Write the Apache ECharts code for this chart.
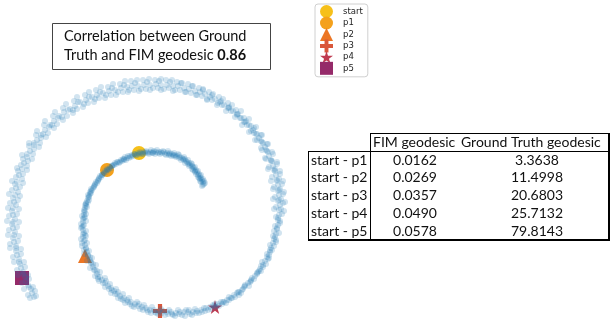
<!DOCTYPE html>
<html><head><meta charset="utf-8">
<script src="https://cdn.jsdelivr.net/npm/echarts@6/dist/echarts.min.js"></script>
<style>html,body{margin:0;padding:0;background:#fff}#c{width:616px;height:322px}</style>
</head><body><div id="c"></div>
<script>
// Spiral sample points (pixel-like data space)
const spiralPoints = [
[204,184],[202,186],[205,183],[203,185],[202,180],[200,181],[203,179],[201,182],[200,176],[198,177],[201,175],[199,178],
[197,172],[196,174],[198,171],[195,172],[194,168],[193,170],[195,167],[192,169],[190,165],[189,166],[192,164],[191,163],
[186,161],[185,163],[188,160],[187,162],[182,158],[181,160],[184,157],[183,159],[177,156],[176,157],[179,155],[178,154],
[172,154],[171,156],[174,153],[173,155],[167,153],[166,155],[168,151],[169,154],[161,152],[160,154],[163,151],[162,153],
[156,152],[155,154],[157,150],[154,151],[150,152],[149,154],[151,150],[152,153],[144,152],[143,154],[146,151],[145,153],
[138,153],[137,155],[140,152],[139,154],[132,155],[131,157],[134,154],[133,156],[127,158],[126,160],[128,156],[125,157],
[121,160],[120,162],[123,159],[122,161],[115,163],[114,165],[117,162],[116,164],[110,167],[109,169],[112,166],[111,168],
[106,172],[104,173],[107,170],[105,171],[101,177],[99,178],[102,175],[100,176],[96,182],[95,184],[98,181],[97,183],
[93,188],[91,189],[94,187],[92,190],[90,194],[88,195],[91,193],[89,196],[87,201],[86,203],[89,200],[88,202],
[85,208],[84,210],[87,207],[86,206],[84,215],[82,216],[86,214],[85,217],
[203,182],[204,181],[201,178],[200,179],[199,174],[198,175],[196,170],[195,171],[192,166],[193,167],[189,163],[188,164],
[184,160],[185,159],[180,157],[179,158],[175,155],[174,156],[170,153],[169,155],[164,152],[165,154],[159,152],[158,153],
[153,152],[153,153],[147,152],[148,153],[141,153],[142,154],[135,154],[136,155],[130,156],[129,158],[124,159],[124,160],
[118,162],[119,163],[113,165],[112,166],[108,170],[107,169],[103,174],[102,175],[98,180],[99,179],[95,185],[94,186],
[91,191],[90,192],[88,198],[89,197],[86,204],[85,205],[84,212],[85,211],[83,219],[84,218],
[83,222],[81,224],[86,221],[84,225],[83,230],[81,228],[86,231],[84,233],[83,237],[81,239],[86,236],[85,240],
[85,245],[82,246],[87,243],[86,248],[87,252],[84,254],[89,251],[88,255],[90,260],[87,261],[92,258],[91,262],
[93,267],[90,268],[96,265],[94,270],[97,274],[95,276],[100,272],[98,277],[102,280],[99,281],[105,278],[103,283],
[108,286],[105,287],[110,284],[109,289],[114,291],[111,293],[116,289],[115,294],[120,296],[118,298],[123,294],[121,299],
[127,300],[125,303],[129,298],[128,302],[135,304],[132,306],[137,302],[134,307],[142,307],[140,309],[144,305],[143,310],
[150,310],[148,312],[152,307],[151,313],[159,311],[156,313],[161,309],[158,314],[167,312],[165,315],[169,310],[168,314],
[176,313],[173,315],[178,310],[175,316],[184,312],[182,315],[186,310],[185,316],[193,312],[190,314],[195,309],[192,315],
[201,310],[199,313],[204,308],[202,312],[210,307],[208,310],[213,305],[211,309],[218,304],[216,307],[221,302],[219,306],
[227,300],[224,302],[229,297],[226,303],[234,295],[232,298],[237,293],[235,297],[242,290],[239,292],[244,287],[241,293],
[248,283],[245,285],[251,281],[249,286],[255,276],[252,278],[257,274],[254,279],[260,269],[258,272],[263,267],[261,271],
[265,261],[262,262],[268,259],[266,264],[270,252],[267,254],[272,250],[269,255],[273,243],[270,245],[276,242],[274,246],
[276,234],[273,236],[279,233],[275,237],[278,225],[275,226],[280,223],[277,228],[279,215],[276,217],[282,214],[278,218],
[83,226],[82,227],[83,234],[85,235],[84,241],[82,243],[86,249],[84,250],[88,256],[90,257],[91,263],[93,264],
[95,270],[97,271],[100,277],[98,279],[105,283],[106,281],[111,288],[112,290],[117,294],[118,292],[124,298],[123,300],
[131,302],[130,304],[138,306],[139,304],[146,308],[147,310],[154,310],[155,312],[163,311],[162,313],[171,312],[172,314],
[180,312],[179,314],[188,312],[189,310],[197,311],[196,313],[206,308],[205,311],[214,306],[215,304],[223,302],[222,304],
[231,298],[229,300],[238,292],[239,295],[245,286],[243,289],[251,280],[250,282],[257,273],[259,271],[263,265],[261,266],
[267,257],[269,258],[271,248],[270,250],[274,239],[276,240],[277,229],[274,231],[278,220],[280,221],
[280,205],[276,207],[283,203],[278,201],[281,209],[279,195],[275,197],[283,194],[278,191],[281,199],
[278,185],[274,187],[282,184],[277,181],[280,189],[276,175],[272,177],[280,174],[275,171],[279,179],
[273,166],[269,167],[277,164],[272,161],[275,169],[269,156],[265,158],[273,154],[268,152],[271,160],
[265,147],[261,148],[268,144],[263,143],[266,150],[259,138],[255,140],[262,135],[257,134],[261,141],
[253,130],[249,132],[256,127],[251,126],[254,133],[245,122],[242,125],[249,119],[244,118],[247,125],
[238,114],[235,117],[241,111],[236,110],[240,118],[229,108],[226,111],[232,105],[228,103],[231,111],
[220,102],[217,105],[223,99],[219,97],[222,105],[210,97],[207,100],[213,94],[209,92],[212,100],
[200,92],[197,95],[203,89],[199,88],[202,96],[189,89],[186,92],[192,86],[188,84],[191,93],
[178,86],[175,90],[181,83],[177,82],[180,90],[167,85],[164,89],[170,82],[166,80],[169,88],
[156,84],[153,88],[159,81],[155,80],[158,88],[144,85],[141,89],[147,82],[143,80],[146,89],
[132,86],[129,90],[135,83],[131,81],[134,90],[121,88],[118,92],[124,85],[120,84],[123,92],
[109,91],[106,95],[112,88],[108,87],[111,95],[97,95],[95,99],[100,92],[96,90],[99,98],
[86,100],[84,104],[89,97],[85,95],[88,103],[75,106],[73,110],[78,102],[74,101],[77,109],
[64,112],[62,117],[68,110],[63,108],[67,116],[54,121],[52,125],[58,118],[53,116],[57,124],
[45,130],[43,134],[49,127],[44,125],[48,133],[37,140],[34,143],[41,138],[36,135],[40,143],
[30,151],[27,154],[34,149],[29,146],[33,154],[24,163],[21,165],[28,161],[23,159],[27,166],
[19,175],[16,177],[23,174],[18,171],[22,179],[16,188],[12,190],[20,187],[15,184],[18,192],
[14,202],[10,203],[18,200],[13,198],[16,205],[13,215],[9,216],[17,214],[12,211],[15,219],
[13,228],[9,230],[17,227],[12,224],[15,232],[14,242],[10,244],[18,241],[13,238],[16,246],
[17,255],[13,257],[21,254],[16,251],[19,259],[21,268],[17,270],[25,267],[20,264],[23,272],
[26,281],[22,283],[29,279],[25,277],[28,285],[32,293],[28,295],[35,291],[31,289],[34,297],
[279,210],[284,211],[274,209],[279,200],[285,202],[273,199],[279,190],[284,192],[273,189],[277,180],[283,181],[271,181],
[274,170],[280,171],[268,169],[271,161],[277,162],[266,159],[267,151],[272,152],[262,150],[262,142],[267,144],[257,140],
[256,134],[261,135],[251,131],[249,125],[254,128],[244,122],[241,118],[246,121],[237,115],[233,111],[237,114],[229,107],
[224,105],[228,108],[221,101],[215,99],[218,103],[212,95],[205,94],[207,99],[203,90],[195,91],[196,95],[193,86],
[184,88],[185,92],[182,83],[173,86],[173,91],[172,80],[161,85],[161,90],[161,79],[150,85],[150,90],[149,79],
[138,86],[139,91],[137,80],[127,87],[128,92],[125,81],[115,90],[116,95],[113,84],[103,93],[105,98],[101,87],
[92,97],[94,102],[89,92],[80,102],[83,107],[77,97],[70,109],[73,113],[66,104],[59,116],[63,120],[55,112],
[50,125],[54,128],[45,121],[41,135],[46,137],[37,131],[34,145],[39,147],[29,143],[27,157],[32,159],[22,155],
[22,169],[27,170],[17,168],[17,182],[23,183],[12,181],[15,195],[20,196],[9,194],[13,208],[19,209],[8,208],
[13,222],[19,222],[7,221],[14,235],[19,236],[8,235],[16,248],[21,249],[10,248],[19,262],[24,262],[14,262],
[23,274],[28,275],[18,275],[29,287],[33,287],[24,289],[36,296],[30,298]
];
// Highlighted points
const markerNames = ['start','p1','p2','p3','p4','p5'];
const markerX = [139,107,85,160,215,22];
const markerY = [153,170,256,311,307,278];
// Table
const pairLabels = ['start - p1','start - p2','start - p3','start - p4','start - p5'];
const fimGeodesic = ['0.0162','0.0269','0.0357','0.0490','0.0578'];
const groundTruthGeodesic = ['3.3638','11.4998','20.6803','25.7132','79.8143'];
const tableHeaders = ['FIM geodesic','Ground Truth geodesic'];
const correlationValue = '0.86';

const markerColors = ['#f6c01a','#f4a11c','#ec7624','#d9573b','#bf3a50','#952a69'];
const plusPath = 'path://M3.5,0h3v3.5h3.5v3h-3.5v3.5h-3v-3.5h-3.5v-3h3.5z';
const starPath = 'path://M50,0L61,35L98,35L68,57L79,91L50,70L21,91L32,57L2,35L39,35Z';
const markerSymbols = ['circle','circle','triangle',plusPath,starPath,'rect'];

const chart = echarts.init(document.getElementById('c'), null, {renderer:'canvas'});
const font = 'Lato, "Open Sans", "Liberation Sans", sans-serif';

const series = markerNames.map((n,i)=>({
  name:n, type:'scatter', z:2,
  symbol:markerSymbols[i], symbolSize:14,
  itemStyle:{color:markerColors[i], opacity:1},
  data:[[markerX[i], markerY[i]]]
}));
series.push({
  name:'spiral', type:'scatter', z:3, symbol:'circle', symbolSize:6,
  itemStyle:{color:'#1f77b4', opacity:0.2},
  data:spiralPoints
});

// table graphics
const g = [];
const tTop=133, hdrBot=151, tBot=240, tLeft=308, colDiv=370, tRight=609;
const lineStyle = {stroke:'#000', lineWidth:1};
g.push({type:'line', shape:{x1:colDiv,y1:tTop+0.5,x2:tRight,y2:tTop+0.5}, style:lineStyle});
g.push({type:'line', shape:{x1:tLeft,y1:hdrBot+0.5,x2:tRight,y2:hdrBot+0.5}, style:lineStyle});
g.push({type:'line', shape:{x1:tLeft,y1:tBot,x2:tRight+1,y2:tBot}, style:{stroke:'#000',lineWidth:2}});
g.push({type:'line', shape:{x1:tLeft+0.5,y1:hdrBot,x2:tLeft+0.5,y2:tBot}, style:lineStyle});
g.push({type:'line', shape:{x1:colDiv+0.5,y1:tTop,x2:colDiv+0.5,y2:tBot}, style:lineStyle});
g.push({type:'line', shape:{x1:tRight,y1:tTop,x2:tRight,y2:tBot+1}, style:{stroke:'#000',lineWidth:2}});
const tf = 14;
g.push({type:'text', x:373, y:142, style:{text:tableHeaders[0], font:tf+'px '+font, fill:'#111', textVerticalAlign:'middle'}});
g.push({type:'text', x:461, y:142, style:{text:tableHeaders[1], font:tf+'px '+font, fill:'#111', textVerticalAlign:'middle'}});
pairLabels.forEach((lab,i)=>{
  const y = 160 + i*17.75;
  g.push({type:'text', x:311, y:y, style:{text:lab, font:tf+'px '+font, fill:'#111', textVerticalAlign:'middle'}});
  g.push({type:'text', x:415, y:y, style:{text:fimGeodesic[i], font:tf+'px '+font, fill:'#111', textAlign:'center', textVerticalAlign:'middle'}});
  g.push({type:'text', x:537, y:y, style:{text:groundTruthGeodesic[i], font:tf+'px '+font, fill:'#111', textAlign:'center', textVerticalAlign:'middle'}});
});
// correlation box
g.push({type:'rect', shape:{x:52.5,y:23.5,width:218,height:46}, style:{fill:'#fff', stroke:'#444', lineWidth:1}});
g.push({type:'text', x:64, y:36, style:{text:'Correlation between Ground', font:'14.5px '+font, fill:'#111', textVerticalAlign:'middle'}});
g.push({type:'text', x:64, y:55, style:{
  text:'{n|Truth and FIM geodesic }{b|'+correlationValue+'}', textVerticalAlign:'middle',
  rich:{n:{font:'14.5px '+font, fill:'#111'}, b:{font:'bold 14.5px '+font, fill:'#111'}}
}});

chart.setOption({
  animation:false,
  backgroundColor:'#fff',
  grid:{left:0,right:0,top:0,bottom:0,containLabel:false},
  xAxis:{type:'value', min:0, max:616, show:false},
  yAxis:{type:'value', min:0, max:322, inverse:true, show:false},
  legend:{
    data:markerNames, orient:'vertical', left:315, top:4,
    itemWidth:13, itemHeight:13, itemGap:-1.5,
    padding:[1,5,2,5],
    backgroundColor:'#fff', borderColor:'#d0d0d0', borderWidth:1, borderRadius:3,
    textStyle:{fontSize:8.5, color:'#222', fontFamily:'"DejaVu Sans", sans-serif', padding:[0,0,0,5]},
    selectedMode:false
  },
  series:series,
  graphic:g
});
</script></body></html>
